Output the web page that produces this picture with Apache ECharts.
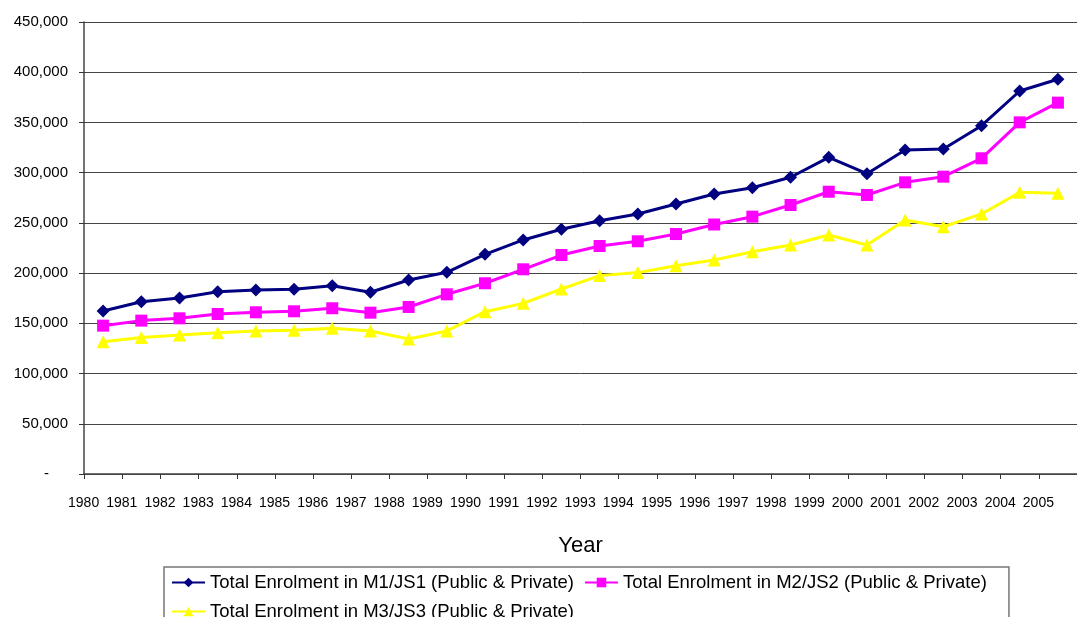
<!DOCTYPE html>
<html>
<head>
<meta charset="utf-8">
<script src="https://cdn.jsdelivr.net/npm/echarts@6/dist/echarts.min.js"></script>
<style>
html,body{margin:0;padding:0;background:#fff;}
#c{width:1077px;height:617px;}
</style>
</head>
<body>
<div id="c"></div>
<script>
const years = ['1980','1981','1982','1983','1984','1985','1986','1987','1988','1989','1990','1991','1992','1993','1994','1995','1996','1997','1998','1999','2000','2001','2002','2003','2004','2005'];
const m1 = [162300,171500,175200,181500,183200,183900,187500,180900,193100,200800,218700,233000,243600,252200,258900,268800,278700,285000,295400,315300,299000,322600,323600,346800,381300,393000];
const m2 = [147700,152700,155000,159300,161000,162000,165000,160600,166300,178900,189900,203800,218000,227000,231700,238900,248400,256200,267800,281000,277800,290400,296000,314300,350100,369700];
const m3 = [131700,136000,138400,140700,142400,143000,145000,142400,134400,142400,161600,169900,184200,197500,200500,207400,213000,221300,228000,238000,228000,252900,246200,258900,280400,279500];
const yTicks = [0,50000,100000,150000,200000,250000,300000,350000,400000,450000];
const seriesNames = ['Total Enrolment in M1/JS1 (Public & Private)','Total Enrolment in M2/JS2 (Public & Private)','Total Enrolment in M3/JS3 (Public & Private)'];

const chart = echarts.init(document.getElementById('c'), null, {renderer:'canvas'});
const font = 'Arial, "Liberation Sans", sans-serif';
function fmt(v){ return String(v).replace(/\B(?=(\d{3})+(?!\d))/g, ','); }
chart.setOption({
  animation:false,
  backgroundColor:'#fff',
  grid:{left:84, top:22, right:-11, bottom:143, containLabel:false},
  xAxis:{
    type:'category', data:years, boundaryGap:true,
    name:'Year', nameLocation:'middle', nameGap:61,
    nameTextStyle:{fontFamily:font, fontSize:22, color:'#000', verticalAlign:'top'},
    axisLine:{lineStyle:{color:'#444', width:1.5}},
    axisTick:{show:true, length:5, inside:false, lineStyle:{color:'#333'}},
    axisLabel:{interval:0, margin:22, fontFamily:font, fontSize:14, color:'#000',
      formatter:function(v){return '{a|'+v+'}';},
      rich:{a:{padding:[0,39,0,0], fontFamily:font, fontSize:14, color:'#000'}}}
  },
  yAxis:{
    type:'value', min:0, max:450000, interval:50000,
    axisLine:{show:true, lineStyle:{color:'#444', width:1.5}},
    axisTick:{show:true, length:5, lineStyle:{color:'#333'}},
    splitLine:{show:true, lineStyle:{color:'#444', width:1}},
    axisLabel:{margin:16, fontFamily:font, fontSize:15, color:'#000',
      customValues: yTicks,
      formatter:function(v){ return v===0 ? '{d|-}' : fmt(v); },
      rich:{d:{padding:[0,19,0,0], fontFamily:font, fontSize:15, color:'#000'}}}
  },
  legend:{
    left:164, top:567, width:826,
    orient:'horizontal',
    borderColor:'#777', borderWidth:1.5,
    padding:[6,22,8,7],
    itemGap:10, itemWidth:33, itemHeight:12,
    textStyle:{fontFamily:font, fontSize:18.5, color:'#000', lineHeight:14},
    data:seriesNames
  },
  series:[
    {name:seriesNames[0], type:'line', data:m1, symbol:'diamond', symbolSize:13,
      lineStyle:{color:'#000080', width:3}, itemStyle:{color:'#000080'}},
    {name:seriesNames[1], type:'line', data:m2, symbol:'rect', symbolSize:12,
      lineStyle:{color:'#FF00FF', width:3}, itemStyle:{color:'#FF00FF'}},
    {name:seriesNames[2], type:'line', data:m3, symbol:'triangle', symbolSize:13,
      lineStyle:{color:'#FFFF00', width:3}, itemStyle:{color:'#FFFF00'}}
  ]
});
</script>
</body>
</html>
